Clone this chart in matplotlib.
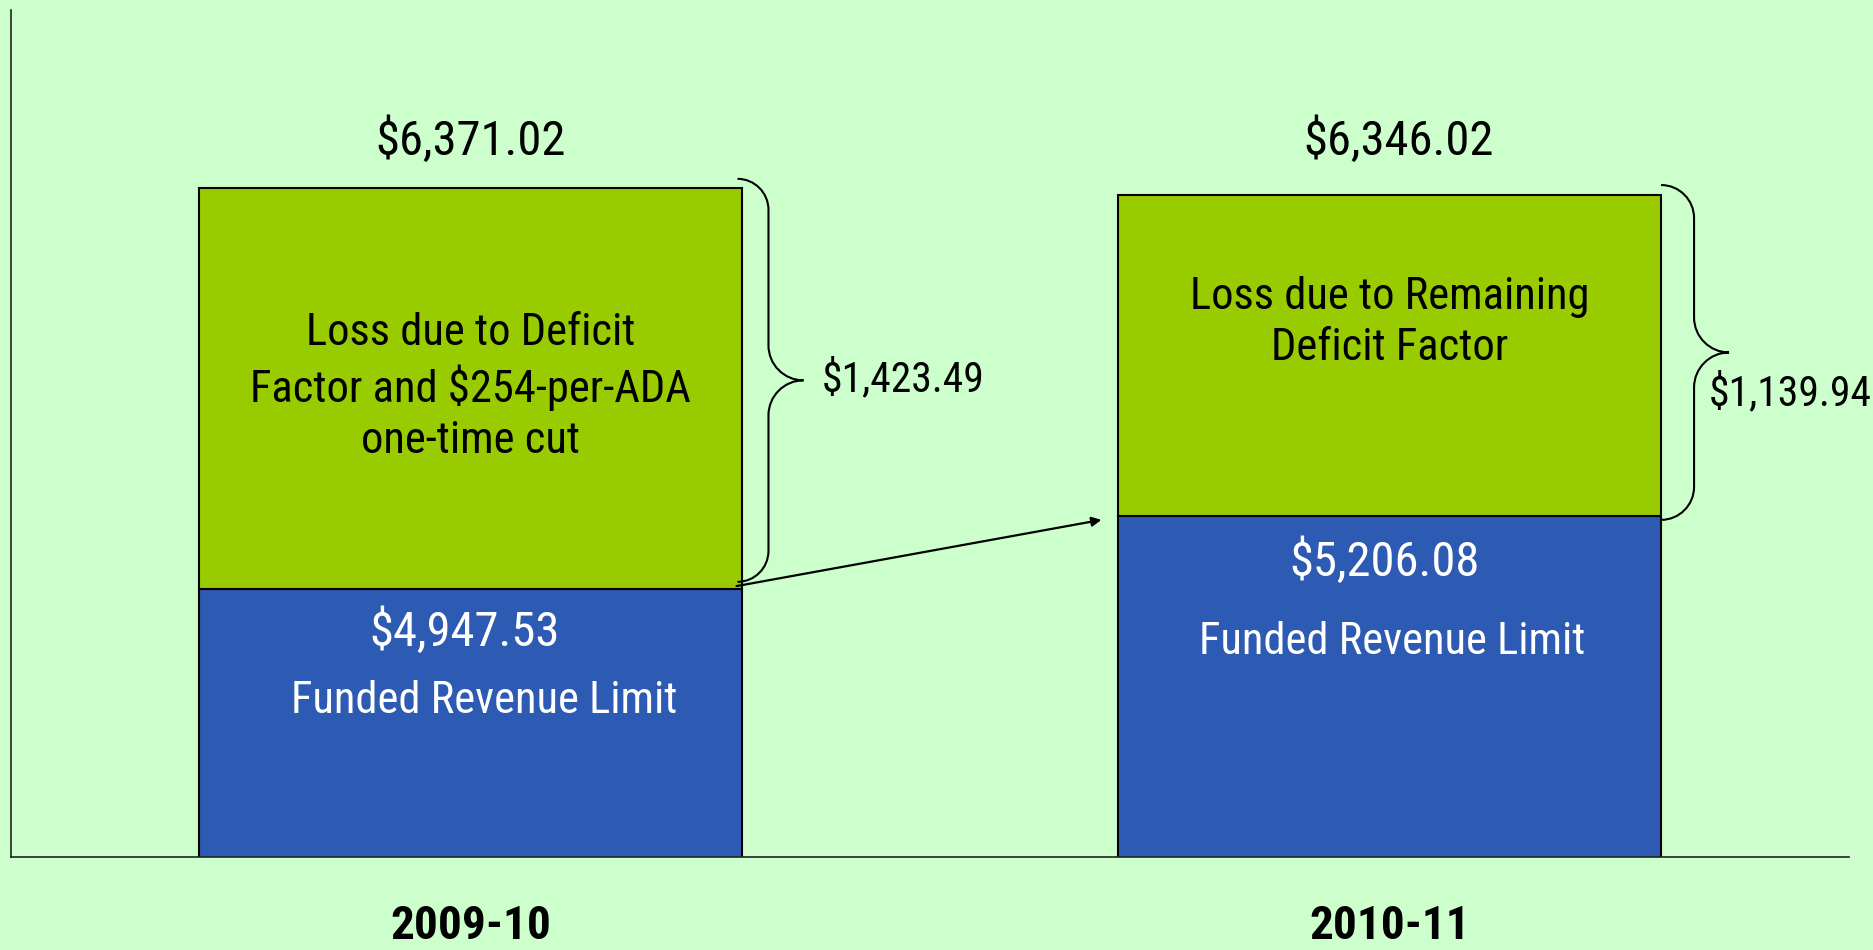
import matplotlib
matplotlib.use('Agg')
import matplotlib.pyplot as plt
from matplotlib import font_manager
from matplotlib.path import Path
from matplotlib.patches import PathPatch

# data
years = ['2009-10', '2010-11']
funded = [4947.53, 5206.08]
loss = [1423.49, 1139.94]
totals = [6371.02, 6346.02]
loss_labels = ['Loss due to Deficit\nFactor and $254-per-ADA\none-time cut',
               'Loss due to Remaining\nDeficit Factor']
funded_label = 'Funded Revenue Limit'


def pick_font(cands):
    for c in cands:
        try:
            font_manager.findfont(font_manager.FontProperties(family=c),
                                  fallback_to_default=False)
            return c
        except ValueError:
            pass
    return 'DejaVu Sans'


font = pick_font(['Liberation Sans Narrow', 'Arial Narrow', 'Roboto Condensed',
                  'Liberation Sans', 'DejaVu Sans'])
plt.rcParams['font.family'] = [font, 'DejaVu Sans']

bg = '#CCFFCC'
c_green = '#99CC00'
c_blue = '#2D5AB2'

W, H = 1874, 950
fig = plt.figure(figsize=(W / 100, H / 100), dpi=100, facecolor=bg)
ax_rect = [11 / W, 93 / H, 1838 / W, 847 / H]
ax = fig.add_axes(ax_rect, facecolor=bg)
xlim = (-0.5, 1.5)
ylim = (4000, 7000)
ax.set_xlim(*xlim)
ax.set_ylim(*ylim)

# pixels per data unit
sx = ax_rect[2] * W / (xlim[1] - xlim[0])
sy = ax_rect[3] * H / (ylim[1] - ylim[0])

x = [0, 1]
width = 0.591
ax.bar(x, funded, width, color=c_blue, edgecolor='black', linewidth=1.5, zorder=2)
ax.bar(x, loss, width, bottom=funded, color=c_green, edgecolor='black',
       linewidth=1.5, zorder=2)

for s in ['top', 'right']:
    ax.spines[s].set_visible(False)
for s in ['left', 'bottom']:
    ax.spines[s].set_color('#222222')
    ax.spines[s].set_linewidth(1.2)
ax.set_yticks([])
ax.set_xticks(x)
ax.set_xticklabels(years, fontsize=34, fontweight='bold')
ax.tick_params(axis='x', length=0, pad=34)

# totals above bars
for i in range(2):
    ax.text(x[i] + [0.0, 0.01][i], 0.845, f'${totals[i]:,.2f}',
            transform=ax.get_xaxis_transform(),
            ha='center', va='center', fontsize=35)

# text in the green segments
ax.text(0.0, 5665, loss_labels[0], ha='center', va='center', fontsize=32,
        linespacing=1.28, zorder=3)
ax.text(1.0, 5893, loss_labels[1], ha='center', va='center', fontsize=32,
        linespacing=1.3, zorder=3)

# text in the blue segments
ax.text(-0.007, 4797, f'${funded[0]:,.2f}', ha='center', va='center',
        fontsize=35, color='white', zorder=3)
ax.text(0.015, 4553, funded_label, ha='center', va='center', fontsize=32,
        color='white', zorder=3)
ax.text(0.995, 5045, f'${funded[1]:,.2f}', ha='center', va='center',
        fontsize=35, color='white', zorder=3)
ax.text(1.003, 4762, funded_label, ha='center', va='center', fontsize=32,
        color='white', zorder=3)


def brace(x0, y_top, y_bot, r1, r2):
    k = 0.5523
    dx1, dy1 = r1 / sx, r1 / sy
    dx2, dy2 = r2 / sx, r2 / sy
    ym = (y_top + y_bot) / 2
    xv = x0 + dx1
    xt = xv + dx2
    verts = [(x0, y_top),
             (x0 + k * dx1, y_top), (xv, y_top - dy1 + k * dy1), (xv, y_top - dy1),
             (xv, ym + dy2),
             (xv, ym + dy2 - k * dy2), (xt - k * dx2, ym), (xt, ym),
             (xt - k * dx2, ym), (xv, ym - dy2 + k * dy2), (xv, ym - dy2),
             (xv, y_bot + dy1),
             (xv, y_bot + dy1 - k * dy1), (x0 + k * dx1, y_bot), (x0, y_bot)]
    codes = [Path.MOVETO] + [Path.CURVE4] * 3 + [Path.LINETO] + [Path.CURVE4] * 6 \
        + [Path.LINETO] + [Path.CURVE4] * 3
    ax.add_patch(PathPatch(Path(verts, codes), fill=False, lw=1.5,
                           edgecolor='black', clip_on=False, zorder=4))
    return xt, ym


brace(x[0] + width / 2 - 0.005, totals[0] + 31, funded[0] + 27, 31, 35)
brace(x[1] + width / 2, totals[1] + 34, funded[1] - 12, 33, 35)
ax.text(0.3825, 5690, f'${loss[0]:,.2f}', ha='left', va='center', fontsize=30)
ax.text(1.3476, 5640, f'${loss[1]:,.2f}', ha='left', va='center', fontsize=30)

# arrow from 2009-10 funded level to 2010-11 funded level
ax.annotate('', xy=(x[1] - width / 2 - 0.018, funded[1] - 12),
            xytext=(x[0] + width / 2 - 0.006, funded[0] + 12),
            arrowprops=dict(arrowstyle='-|>', color='black', lw=1.6,
                            mutation_scale=14, shrinkA=0, shrinkB=0),
            zorder=4)

fig.savefig('out.png', dpi=100, facecolor=bg)
